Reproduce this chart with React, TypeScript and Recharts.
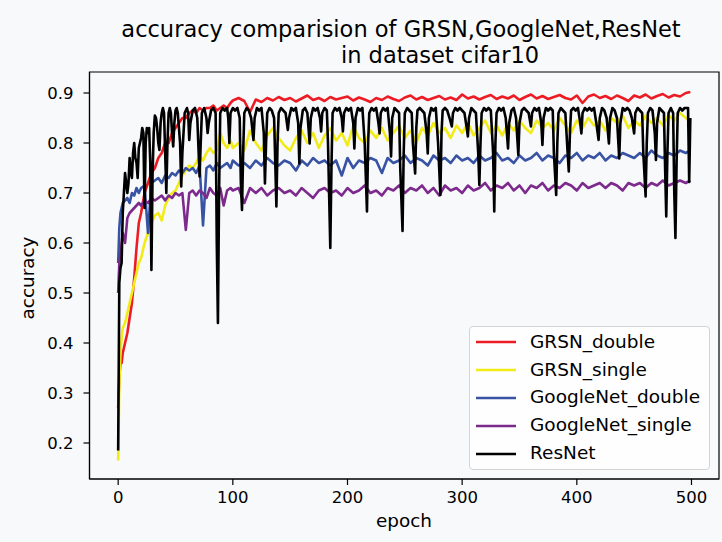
import React from 'react';
import { LineChart, Line, XAxis, YAxis, Legend, ReferenceArea } from 'recharts';

const FONT = '"DejaVu Sans", "Liberation Sans", sans-serif';
const BG = '#f8f9fb';

// epochs sampled for the four noisy curves
const epochs = [
  0, 1, 2, 3, 4, 6, 8, 10, 12, 14, 16, 18, 20,
  23, 26, 29, 32, 35, 38, 41, 44, 47, 50, 53, 56, 59, 62, 65, 68, 71, 74, 77, 80, 83, 86, 89, 92, 95, 98,
  100, 105, 110, 115, 120, 125, 130, 135, 140, 145,
  150, 155, 160, 165, 170, 175, 180, 185, 190, 195,
  200, 205, 210, 215, 220, 225, 230, 235, 240, 245,
  250, 255, 260, 265, 270, 275, 280, 285, 290, 295,
  300, 305, 310, 315, 320, 325, 330, 335, 340, 345,
  350, 355, 360, 365, 370, 375, 380, 385, 390, 395,
  400, 405, 410, 415, 420, 425, 430, 435, 440, 445,
  450, 455, 460, 465, 470, 475, 480, 485, 490, 495,
  499,
];

const grsnDouble = [
  0.27, 0.33, 0.36, 0.36, 0.38, 0.4, 0.42, 0.45, 0.48, 0.53, 0.59, 0.64, 0.66,
  0.7, 0.72, 0.74, 0.75, 0.77, 0.78, 0.8, 0.8, 0.82, 0.83, 0.84, 0.85, 0.85, 0.86, 0.865, 0.86, 0.87, 0.865, 0.87, 0.87, 0.875, 0.865, 0.87, 0.875, 0.87, 0.88,
  0.885, 0.89, 0.884, 0.862, 0.887, 0.882, 0.89, 0.885, 0.892, 0.886,
  0.89, 0.883, 0.889, 0.895, 0.886, 0.89, 0.884, 0.892, 0.887, 0.89,
  0.893, 0.885, 0.891, 0.887, 0.882, 0.89, 0.886, 0.893, 0.888, 0.884,
  0.891, 0.895, 0.887, 0.892, 0.886, 0.89, 0.894, 0.887, 0.891, 0.886,
  0.897, 0.889, 0.893, 0.887, 0.892, 0.896, 0.888, 0.893, 0.889, 0.895,
  0.886, 0.892, 0.897, 0.889, 0.894, 0.888, 0.892, 0.896, 0.89, 0.887,
  0.895, 0.88, 0.893, 0.897, 0.89, 0.894, 0.888, 0.895, 0.89, 0.884,
  0.895, 0.891, 0.897, 0.889, 0.894, 0.898, 0.891, 0.896, 0.893, 0.9,
  0.902,
];

const grsnSingle = [
  0.165, 0.32, 0.38, 0.41, 0.43, 0.44, 0.46, 0.48, 0.5, 0.52, 0.54, 0.56, 0.57,
  0.6, 0.62, 0.64, 0.655, 0.66, 0.645, 0.675, 0.69, 0.7, 0.705, 0.72, 0.735, 0.745, 0.755, 0.75, 0.76, 0.775, 0.765, 0.78, 0.79, 0.78, 0.785, 0.82, 0.8, 0.79, 0.805,
  0.79, 0.8, 0.785, 0.825, 0.8, 0.785, 0.815, 0.83, 0.81, 0.795,
  0.785, 0.81, 0.825, 0.8, 0.82, 0.79, 0.815, 0.83, 0.805, 0.82,
  0.795, 0.835, 0.81, 0.8, 0.825, 0.81, 0.83, 0.805, 0.82, 0.835,
  0.81, 0.825, 0.8, 0.83, 0.815, 0.84, 0.82, 0.83, 0.81, 0.835,
  0.82, 0.84, 0.815, 0.83, 0.845, 0.82, 0.835, 0.815, 0.84, 0.825,
  0.845, 0.83, 0.82, 0.845, 0.83, 0.84, 0.825, 0.85, 0.835, 0.82,
  0.845, 0.83, 0.85, 0.835, 0.845, 0.825, 0.85, 0.84, 0.855, 0.83,
  0.845, 0.835, 0.855, 0.84, 0.85, 0.835, 0.855, 0.845, 0.86, 0.85,
  0.845,
];

const googleDouble = [
  0.56, 0.63, 0.66, 0.67, 0.68, 0.685, 0.69, 0.68, 0.7, 0.695, 0.71, 0.7, 0.71,
  0.715, 0.62, 0.72, 0.725, 0.73, 0.72, 0.735, 0.73, 0.74, 0.735, 0.745, 0.74, 0.75, 0.745, 0.75, 0.74, 0.755, 0.635, 0.75, 0.755, 0.745, 0.76, 0.75, 0.755, 0.76, 0.75,
  0.765, 0.755, 0.76, 0.75, 0.765, 0.755, 0.77, 0.76, 0.755, 0.765,
  0.76, 0.745, 0.765, 0.755, 0.77, 0.76, 0.765, 0.755, 0.765, 0.735,
  0.77, 0.75, 0.765, 0.76, 0.77, 0.765, 0.74, 0.77, 0.76, 0.765,
  0.775, 0.76, 0.77, 0.765, 0.755, 0.775, 0.765, 0.77, 0.76, 0.775,
  0.765, 0.77, 0.76, 0.775, 0.765, 0.77, 0.78, 0.765, 0.77, 0.76,
  0.775, 0.765, 0.77, 0.78, 0.765, 0.775, 0.77, 0.76, 0.775, 0.77,
  0.78, 0.765, 0.775, 0.77, 0.78, 0.765, 0.775, 0.77, 0.78, 0.775,
  0.77, 0.78, 0.77, 0.785, 0.775, 0.77, 0.78, 0.775, 0.785, 0.78,
  0.785,
];

const googleSingle = [
  0.5, 0.56, 0.58, 0.6, 0.62, 0.6, 0.65, 0.66, 0.665, 0.67, 0.675, 0.68, 0.675,
  0.685, 0.68, 0.69, 0.685, 0.69, 0.695, 0.685, 0.695, 0.69, 0.7, 0.695, 0.7, 0.626, 0.7, 0.705, 0.695, 0.705, 0.7, 0.69, 0.71, 0.7, 0.695, 0.71, 0.675, 0.705, 0.71,
  0.705, 0.71, 0.68, 0.71, 0.7, 0.71, 0.695, 0.705, 0.71, 0.7,
  0.705, 0.695, 0.71, 0.7, 0.69, 0.705, 0.71, 0.7, 0.705, 0.695,
  0.71, 0.7, 0.705, 0.715, 0.7, 0.705, 0.695, 0.71, 0.705, 0.715,
  0.7, 0.71, 0.705, 0.715, 0.7, 0.71, 0.695, 0.715, 0.705, 0.71,
  0.7, 0.715, 0.705, 0.71, 0.72, 0.705, 0.715, 0.71, 0.72, 0.705,
  0.715, 0.7, 0.715, 0.71, 0.72, 0.705, 0.715, 0.71, 0.72, 0.715,
  0.705, 0.72, 0.71, 0.715, 0.72, 0.71, 0.72, 0.715, 0.705, 0.72,
  0.715, 0.72, 0.71, 0.72, 0.715, 0.725, 0.715, 0.72, 0.725, 0.72,
  0.725,
];

// ResNet: [epoch, accuracy] read at plateaus and dips
const resnet: [number, number][] = [
  [0, 0.185], [1, 0.52], [2, 0.55], [3, 0.56], [4, 0.66], [5, 0.7], [6, 0.74], [7, 0.72], [8, 0.7], [9, 0.72],
  [10, 0.77], [11, 0.74], [12, 0.73], [13, 0.78], [14, 0.8], [15, 0.77], [16, 0.76], [17, 0.73], [18, 0.79], [19, 0.8],
  [20, 0.81], [21, 0.83], [22, 0.82], [23, 0.67], [24, 0.8], [25, 0.83], [26, 0.82], [27, 0.83], [28, 0.76], [29, 0.546],
  [30, 0.74], [31, 0.82], [32, 0.855], [33, 0.85], [34, 0.83], [35, 0.8], [36, 0.786], [37, 0.84], [38, 0.86], [39, 0.87],
  [40, 0.86], [41, 0.78], [42, 0.7], [43, 0.8], [44, 0.86], [45, 0.87], [46, 0.86], [47, 0.82], [48, 0.793], [49, 0.84],
  [50, 0.865], [51, 0.87], [52, 0.86], [54, 0.8], [55, 0.713], [56, 0.78], [58, 0.86], [60, 0.87], [61, 0.86], [62, 0.806],
  [63, 0.84], [65, 0.865], [67, 0.87], [69, 0.85], [71, 0.733], [72, 0.8], [73, 0.86], [75, 0.87], [77, 0.85], [78, 0.82],
  [79, 0.84], [81, 0.865], [83, 0.87], [85, 0.86], [86, 0.6], [87, 0.44], [88, 0.7], [89, 0.86], [91, 0.87], [93, 0.865],
  [95, 0.87], [96, 0.85], [97, 0.8], [98, 0.86], [100, 0.87], [102, 0.865], [104, 0.87], [106, 0.85], [107, 0.72], [108, 0.666],
  [109, 0.78], [110, 0.86], [112, 0.87], [114, 0.865], [116, 0.85], [118, 0.806], [119, 0.85], [121, 0.87], [123, 0.865], [125, 0.87],
  [127, 0.82], [128, 0.719], [129, 0.8], [130, 0.86], [132, 0.87], [134, 0.865], [136, 0.85], [138, 0.673], [139, 0.8], [140, 0.86],
  [142, 0.87], [144, 0.865], [146, 0.86], [148, 0.826], [149, 0.85], [151, 0.87], [153, 0.865], [155, 0.87], [157, 0.84], [158, 0.759],
  [159, 0.83], [161, 0.865], [163, 0.87], [165, 0.86], [167, 0.799], [168, 0.85], [170, 0.87], [172, 0.865], [174, 0.87], [176, 0.85],
  [177, 0.823], [178, 0.86], [180, 0.87], [182, 0.865], [183, 0.8], [185, 0.59], [186, 0.75], [187, 0.86], [189, 0.87], [191, 0.865],
  [193, 0.87], [195, 0.85], [196, 0.823], [197, 0.86], [199, 0.87], [201, 0.865], [203, 0.87], [205, 0.84], [206, 0.789], [207, 0.85],
  [209, 0.87], [211, 0.865], [213, 0.87], [215, 0.8], [217, 0.663], [218, 0.8], [219, 0.86], [221, 0.87], [223, 0.865], [225, 0.87],
  [227, 0.84], [228, 0.819], [229, 0.86], [231, 0.87], [233, 0.865], [235, 0.87], [237, 0.82], [238, 0.773], [239, 0.85], [241, 0.87],
  [243, 0.865], [245, 0.86], [246, 0.75], [248, 0.624], [249, 0.78], [250, 0.86], [252, 0.87], [254, 0.865], [256, 0.86], [257, 0.8],
  [259, 0.739], [260, 0.83], [261, 0.865], [263, 0.87], [265, 0.865], [267, 0.86], [269, 0.82], [270, 0.779], [271, 0.85], [273, 0.87],
  [275, 0.865], [277, 0.87], [279, 0.8], [281, 0.696], [282, 0.82], [283, 0.865], [285, 0.87], [287, 0.865], [289, 0.85], [291, 0.833],
  [292, 0.86], [294, 0.87], [296, 0.865], [298, 0.87], [300, 0.865], [302, 0.86], [304, 0.83], [305, 0.813], [306, 0.85], [308, 0.87],
  [310, 0.865], [312, 0.86], [314, 0.78], [315, 0.716], [316, 0.8], [317, 0.86], [319, 0.87], [321, 0.865], [323, 0.87], [325, 0.865],
  [327, 0.78], [328, 0.663], [329, 0.8], [330, 0.86], [332, 0.87], [334, 0.865], [336, 0.87], [338, 0.85], [340, 0.789], [341, 0.84],
  [343, 0.865], [345, 0.87], [347, 0.85], [349, 0.776], [350, 0.84], [352, 0.865], [354, 0.87], [356, 0.865], [358, 0.86], [360, 0.833],
  [361, 0.86], [363, 0.87], [365, 0.865], [367, 0.87], [369, 0.84], [370, 0.796], [371, 0.85], [373, 0.87], [375, 0.865], [377, 0.87],
  [379, 0.865], [380, 0.78], [382, 0.696], [383, 0.8], [384, 0.86], [386, 0.87], [388, 0.865], [390, 0.86], [392, 0.78], [393, 0.743],
  [394, 0.82], [395, 0.865], [397, 0.87], [399, 0.865], [401, 0.87], [403, 0.84], [404, 0.819], [405, 0.86], [407, 0.87], [409, 0.865],
  [411, 0.87], [413, 0.865], [415, 0.87], [417, 0.84], [419, 0.806], [420, 0.85], [422, 0.87], [424, 0.865], [426, 0.85], [428, 0.799],
  [429, 0.85], [431, 0.87], [433, 0.865], [435, 0.85], [437, 0.769], [438, 0.84], [440, 0.87], [442, 0.865], [444, 0.87], [446, 0.865],
  [448, 0.85], [450, 0.819], [451, 0.86], [453, 0.87], [455, 0.865], [457, 0.86], [458, 0.78], [460, 0.693], [461, 0.8], [462, 0.86],
  [464, 0.87], [466, 0.865], [468, 0.82], [469, 0.766], [470, 0.84], [472, 0.87], [474, 0.865], [476, 0.86], [477, 0.75], [478, 0.653],
  [479, 0.78], [480, 0.86], [482, 0.87], [484, 0.86], [485, 0.7], [486, 0.61], [487, 0.76], [488, 0.86], [490, 0.87], [492, 0.865],
  [494, 0.87], [496, 0.87], [497, 0.87], [498, 0.722], [499, 0.85],
];

const xTicks = [0, 100, 200, 300, 400, 500];
const yTicks = [0.2, 0.3, 0.4, 0.5, 0.6, 0.7, 0.8, 0.9];
const X_DOMAIN: [number, number] = [-25, 524];
const Y_DOMAIN: [number, number] = [0.128, 0.942];

const series = [
  { key: 'grsnDouble', name: 'GRSN_double', color: '#ed1c24' },
  { key: 'grsnSingle', name: 'GRSN_single', color: '#f2eb16' },
  { key: 'googleDouble', name: 'GoogleNet_double', color: '#3953a4' },
  { key: 'googleSingle', name: 'GoogleNet_single', color: '#7c2a8c' },
  { key: 'resnet', name: 'ResNet', color: '#000000' },
];

const rows = epochs.map((epoch, i) => ({
  epoch,
  grsnDouble: grsnDouble[i],
  grsnSingle: grsnSingle[i],
  googleDouble: googleDouble[i],
  googleSingle: googleSingle[i],
}));

const resnetRows = resnet.map(([epoch, v]) => ({ epoch, resnet: v }));

const tickStyle = { fill: '#000', fontSize: 16.5, fontFamily: FONT };

const LegendBox = () => (
  <div
    style={{
      width: 241,
      height: 144,
      boxSizing: 'border-box',
      border: '1px solid #d4d4d4',
      borderRadius: 4,
      background: 'rgba(255,255,255,0.8)',
      fontFamily: FONT,
      fontSize: 18.5,
      color: '#000',
      paddingTop: 1,
    }}
  >
    {series.map((s) => (
      <div key={s.key} style={{ display: 'flex', alignItems: 'center', height: 27.9 }}>
        <svg width={60} height={10} style={{ flex: 'none' }}>
          <line x1={6} x2={46} y1={5} y2={5} stroke={s.color} strokeWidth={2.6} />
        </svg>
        <span style={{ lineHeight: 1, whiteSpace: 'nowrap' }}>{s.name}</span>
      </div>
    ))}
  </div>
);

export default function App() {
  return (
    <div style={{ position: 'absolute', left: 0, top: 0, width: 722, height: 542, background: BG }}>
      <LineChart
        width={722}
        height={542}
        data={rows}
        margin={{ top: 72, right: 3, bottom: 23, left: 29.5 }}
      >
        <XAxis
          dataKey="epoch"
          type="number"
          domain={X_DOMAIN}
          allowDataOverflow
          ticks={xTicks}
          height={40}
          tick={tickStyle}
          tickSize={6}
          tickMargin={6}
          tickLine={{ stroke: '#000', strokeWidth: 1.2 }}
          axisLine={{ stroke: '#000', strokeWidth: 1.2 }}
        />
        <YAxis
          type="number"
          domain={Y_DOMAIN}
          allowDataOverflow
          ticks={yTicks}
          tickFormatter={(v: number) => v.toFixed(1)}
          width={60}
          tick={tickStyle}
          tickSize={6}
          tickMargin={10}
          tickLine={{ stroke: '#000', strokeWidth: 1.2 }}
          axisLine={{ stroke: '#000', strokeWidth: 1.2 }}
        />
        {series.map((s) => (
          <Line
            key={s.key}
            data={s.key === 'resnet' ? resnetRows : undefined}
            type="linear"
            dataKey={s.key}
            name={s.name}
            stroke={s.color}
            strokeWidth={2.6}
            strokeLinejoin="round"
            dot={false}
            activeDot={false}
            isAnimationActive={false}
          />
        ))}
        <ReferenceArea
          x1={X_DOMAIN[0]}
          x2={X_DOMAIN[1]}
          y1={Y_DOMAIN[0]}
          y2={Y_DOMAIN[1]}
          fill="none"
          stroke="#000"
          strokeWidth={1.2}
          ifOverflow="visible"
        />
        <Legend
          layout="vertical"
          align="center"
          verticalAlign="middle"
          wrapperStyle={{ left: 469, top: 326, width: 241, height: 144 }}
          content={LegendBox}
        />
      </LineChart>
      <svg
        width={722}
        height={542}
        style={{ position: 'absolute', left: 0, top: 0, pointerEvents: 'none' }}
        fontFamily={FONT}
      >
        <text x={401} y={37} textAnchor="middle" fontSize={22.5} fill="#000">
          accuracy comparision of GRSN,GoogleNet,ResNet
        </text>
        <text x={440} y={63} textAnchor="middle" fontSize={22.5} fill="#000">
          in dataset cifar10
        </text>
        <text x={404} y={527} textAnchor="middle" fontSize={18.4} fill="#000">
          epoch
        </text>
        <text
          x={33.5}
          y={278}
          textAnchor="middle"
          fontSize={18.4}
          fill="#000"
          transform="rotate(-90 33.5 278)"
        >
          accuracy
        </text>
      </svg>
    </div>
  );
}
